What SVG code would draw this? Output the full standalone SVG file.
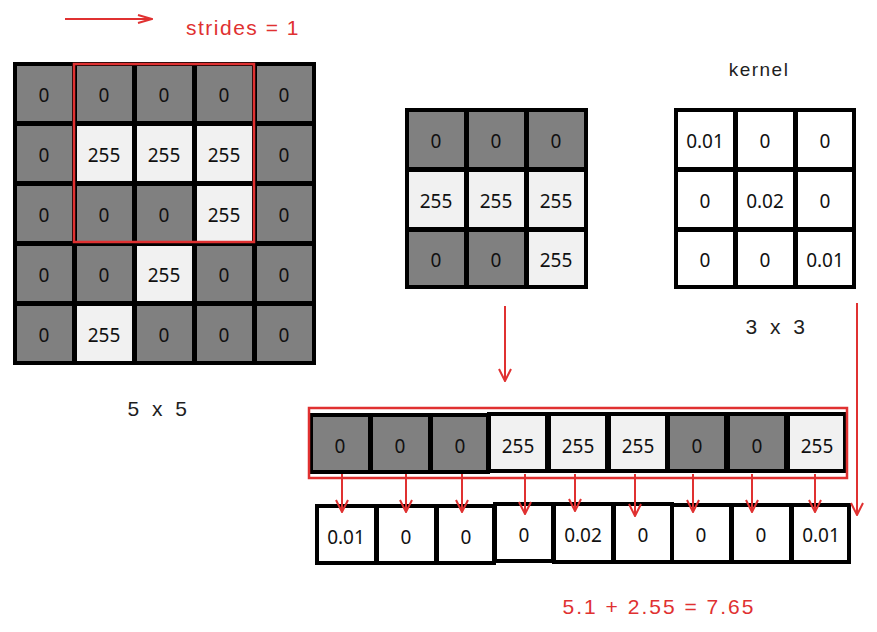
<svg xmlns="http://www.w3.org/2000/svg" width="877" height="632" viewBox="0 0 877 632">
<defs>
<style>
.d{fill:#808080;stroke:#000;stroke-width:4}
.l{fill:#f1f1f1;stroke:#000;stroke-width:4}
.w{fill:#fff;stroke:#000;stroke-width:4}
.t{font-family:"Noto Sans","Open Sans",sans-serif;font-size:19px;fill:#111;text-anchor:middle;dominant-baseline:central}
.h{font-family:"Liberation Sans",sans-serif;font-size:21px;text-anchor:middle;dominant-baseline:central}
.red{fill:#e03131}
.blk{fill:#1e1e1e}
.frame{fill:none;stroke:#e03131;stroke-width:2.5}
.con{stroke:#e03131;stroke-width:2;fill:none}
</style>
<marker id="ah" viewBox="0 0 14 14" refX="13" refY="7" markerWidth="14" markerHeight="14" markerUnits="userSpaceOnUse" orient="auto">
<path d="M1,1 L13,7 L1,13" fill="none" stroke="#e03131" stroke-width="2"/>
</marker>
<marker id="ah2" viewBox="0 0 16 10" refX="15" refY="5" markerWidth="16" markerHeight="10" markerUnits="userSpaceOnUse" orient="auto">
<path d="M1,1 L15,5 L1,9" fill="none" stroke="#e03131" stroke-width="2"/>
</marker>
</defs>
<rect width="877" height="632" fill="#fff"/>

<g id="input5x5">
<rect class="d" x="15" y="64" width="59" height="59"/><text class="t" x="44" y="95">0</text>
<rect class="d" x="75" y="64" width="59" height="59"/><text class="t" x="104" y="95">0</text>
<rect class="d" x="135" y="64" width="59" height="59"/><text class="t" x="164" y="95">0</text>
<rect class="d" x="195" y="64" width="59" height="59"/><text class="t" x="224" y="95">0</text>
<rect class="d" x="255" y="64" width="59" height="59"/><text class="t" x="284" y="95">0</text>
<rect class="d" x="15" y="124" width="59" height="59"/><text class="t" x="44" y="155">0</text>
<rect class="l" x="75" y="124" width="59" height="59"/><text class="t" x="104" y="155">255</text>
<rect class="l" x="135" y="124" width="59" height="59"/><text class="t" x="164" y="155">255</text>
<rect class="l" x="195" y="124" width="59" height="59"/><text class="t" x="224" y="155">255</text>
<rect class="d" x="255" y="124" width="59" height="59"/><text class="t" x="284" y="155">0</text>
<rect class="d" x="15" y="184" width="59" height="59"/><text class="t" x="44" y="215">0</text>
<rect class="d" x="75" y="184" width="59" height="59"/><text class="t" x="104" y="215">0</text>
<rect class="d" x="135" y="184" width="59" height="59"/><text class="t" x="164" y="215">0</text>
<rect class="l" x="195" y="184" width="59" height="59"/><text class="t" x="224" y="215">255</text>
<rect class="d" x="255" y="184" width="59" height="59"/><text class="t" x="284" y="215">0</text>
<rect class="d" x="15" y="244" width="59" height="59"/><text class="t" x="44" y="275">0</text>
<rect class="d" x="75" y="244" width="59" height="59"/><text class="t" x="104" y="275">0</text>
<rect class="l" x="135" y="244" width="59" height="59"/><text class="t" x="164" y="275">255</text>
<rect class="d" x="195" y="244" width="59" height="59"/><text class="t" x="224" y="275">0</text>
<rect class="d" x="255" y="244" width="59" height="59"/><text class="t" x="284" y="275">0</text>
<rect class="d" x="15" y="304" width="59" height="59"/><text class="t" x="44" y="335">0</text>
<rect class="l" x="75" y="304" width="59" height="59"/><text class="t" x="104" y="335">255</text>
<rect class="d" x="135" y="304" width="59" height="59"/><text class="t" x="164" y="335">0</text>
<rect class="d" x="195" y="304" width="59" height="59"/><text class="t" x="224" y="335">0</text>
<rect class="d" x="255" y="304" width="59" height="59"/><text class="t" x="284" y="335">0</text>
<rect class="frame" x="74" y="64" width="180" height="178"/>
</g>

<g id="patch3x3">
<rect class="d" x="407" y="110" width="59" height="59"/><text class="t" x="436" y="141">0</text>
<rect class="d" x="467" y="110" width="59" height="59"/><text class="t" x="496" y="141">0</text>
<rect class="d" x="527" y="110" width="59" height="59"/><text class="t" x="556" y="141">0</text>
<rect class="l" x="407" y="170" width="59" height="59"/><text class="t" x="436" y="201">255</text>
<rect class="l" x="467" y="170" width="59" height="59"/><text class="t" x="496" y="201">255</text>
<rect class="l" x="527" y="170" width="59" height="59"/><text class="t" x="556" y="201">255</text>
<rect class="d" x="407" y="230" width="59" height="57"/><text class="t" x="436" y="260">0</text>
<rect class="d" x="467" y="230" width="59" height="57"/><text class="t" x="496" y="260">0</text>
<rect class="l" x="527" y="230" width="59" height="57"/><text class="t" x="556" y="260">255</text>
</g>

<g id="kernel">
<rect class="w" x="676" y="110" width="59" height="59"/><text class="t" x="705" y="141">0.01</text>
<rect class="w" x="736" y="110" width="59" height="59"/><text class="t" x="765" y="141">0</text>
<rect class="w" x="796" y="110" width="58" height="59"/><text class="t" x="825" y="141">0</text>
<rect class="w" x="676" y="170" width="59" height="59"/><text class="t" x="705" y="201">0</text>
<rect class="w" x="736" y="170" width="59" height="59"/><text class="t" x="765" y="201">0.02</text>
<rect class="w" x="796" y="170" width="58" height="59"/><text class="t" x="825" y="201">0</text>
<rect class="w" x="676" y="230" width="59" height="57"/><text class="t" x="705" y="260">0</text>
<rect class="w" x="736" y="230" width="59" height="57"/><text class="t" x="765" y="260">0</text>
<rect class="w" x="796" y="230" width="58" height="57"/><text class="t" x="825" y="260">0.01</text>
</g>

<g id="flatPatch">
<rect class="d" x="311" y="415" width="59" height="57"/><text class="t" x="340" y="446">0</text>
<rect class="d" x="371" y="415" width="59" height="57"/><text class="t" x="400" y="446">0</text>
<rect class="d" x="431" y="415" width="57" height="57"/><text class="t" x="460" y="446">0</text>
<rect class="l" x="489" y="414" width="58" height="57"/><text class="t" x="518" y="446">255</text>
<rect class="l" x="549" y="414" width="58" height="57"/><text class="t" x="578" y="446">255</text>
<rect class="l" x="609" y="414" width="58" height="57"/><text class="t" x="638" y="446">255</text>
<rect class="d" x="668" y="414" width="58" height="57"/><text class="t" x="697" y="446">0</text>
<rect class="d" x="728" y="414" width="58" height="57"/><text class="t" x="757" y="446">0</text>
<rect class="l" x="788" y="414" width="57" height="57"/><text class="t" x="817" y="446">255</text>
<rect class="frame" x="309" y="408" width="538" height="70"/>
</g>

<g id="flatKernel">
<rect class="w" x="317" y="506" width="59" height="57"/><text class="t" x="346" y="537">0.01</text>
<rect class="w" x="377" y="506" width="59" height="57"/><text class="t" x="406" y="537">0</text>
<rect class="w" x="437" y="506" width="57" height="57"/><text class="t" x="466" y="537">0</text>
<rect class="w" x="495" y="504" width="58" height="57"/><text class="t" x="524" y="535">0</text>
<rect class="w" x="554" y="504" width="59" height="58"/><text class="t" x="583" y="535">0.02</text>
<rect class="w" x="614" y="504" width="58" height="58"/><text class="t" x="643" y="535">0</text>
<rect class="w" x="672" y="505" width="59" height="57"/><text class="t" x="701" y="535">0</text>
<rect class="w" x="732" y="505" width="59" height="57"/><text class="t" x="761" y="535">0</text>
<rect class="w" x="792" y="505" width="57" height="57"/><text class="t" x="821" y="535">0.01</text>
</g>

<g id="connectors">
<line class="con" x1="65" y1="19" x2="152" y2="19" marker-end="url(#ah2)"/>
<line class="con" x1="505" y1="306" x2="505" y2="381" marker-end="url(#ah)"/>
<line class="con" x1="857" y1="303" x2="857" y2="515" marker-end="url(#ah)"/>
<line class="con" x1="342" y1="474" x2="342" y2="512" marker-end="url(#ah)"/>
<line class="con" x1="406" y1="474" x2="406" y2="512" marker-end="url(#ah)"/>
<line class="con" x1="462" y1="474" x2="462" y2="512" marker-end="url(#ah)"/>
<line class="con" x1="525" y1="474" x2="525" y2="514" marker-end="url(#ah)"/>
<line class="con" x1="575" y1="474" x2="575" y2="511" marker-end="url(#ah)"/>
<line class="con" x1="635" y1="474" x2="635" y2="516" marker-end="url(#ah)"/>
<line class="con" x1="693" y1="474" x2="693" y2="512" marker-end="url(#ah)"/>
<line class="con" x1="752" y1="474" x2="752" y2="512" marker-end="url(#ah)"/>
<line class="con" x1="815" y1="474" x2="815" y2="512" marker-end="url(#ah)"/>
</g>

<g id="labels">
<text class="h red" x="243" y="27" style="letter-spacing:1.5px">strides = 1</text>
<text class="h blk" x="759" y="69" style="font-size:19px;letter-spacing:1.5px">kernel</text>
<text class="h blk" x="777" y="326" style="letter-spacing:3.5px">3 x 3</text>
<text class="h blk" x="159" y="408" style="letter-spacing:3.5px">5 x 5</text>
<text class="h red" x="659" y="606" style="letter-spacing:2px">5.1 + 2.55 = 7.65</text>
</g>
</svg>
